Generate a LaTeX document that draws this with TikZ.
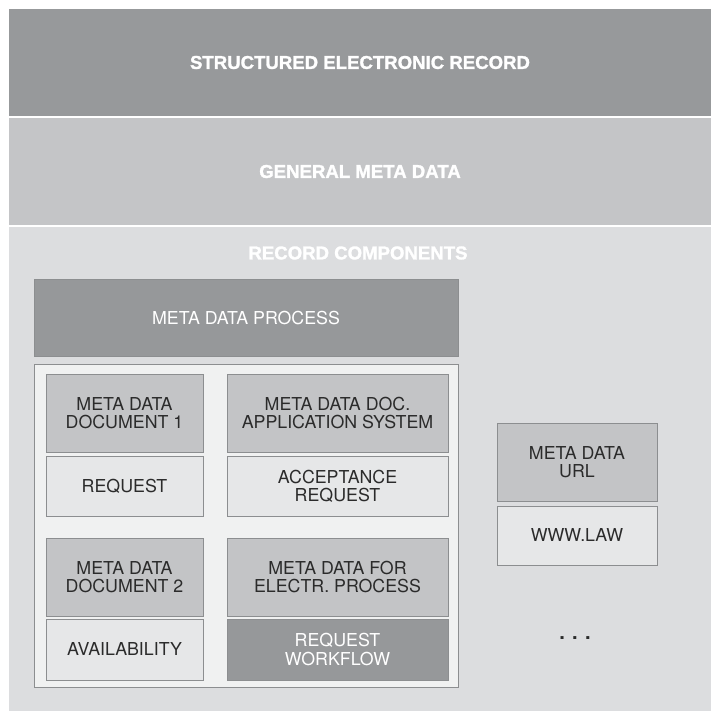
\documentclass[tikz,border=0pt]{standalone}
\usepackage{fontspec}
\setmainfont{TeX Gyre Heros}
\newfontfamily\hdrfont{Liberation Sans}[FakeBold=1.5]

\definecolor{bandA}{HTML}{97999B}
\definecolor{bandB}{HTML}{C4C5C7}
\definecolor{bandC}{HTML}{DCDDDF}
\definecolor{framefill}{HTML}{F0F1F1}
\definecolor{cellline}{HTML}{8C8E90}
\definecolor{celltext}{HTML}{2B2B2B}
\definecolor{midfill}{HTML}{C3C4C6}
\definecolor{lightfill}{HTML}{E6E7E8}
\definecolor{darkfill}{HTML}{96989A}

\tikzset{
    band/.style={fill=#1, inner sep=0pt, outer sep=0pt, anchor=north west},
    hdr/.style={font=\hdrfont\bfseries\fontsize{18.6}{20}\selectfont, text=white},
    cell/.style={draw=cellline, line width=1pt, inner sep=0pt, outer sep=0pt,
        anchor=north west, align=center, text=celltext,
        font=\fontsize{17.8}{18.2}\selectfont},
    midcell/.style={cell, fill=midfill},
    lightcell/.style={cell, fill=lightfill},
    darkcell/.style={cell, fill=darkfill, text=white},
}

\begin{document}
\begin{tikzpicture}[x=1pt,y=-1pt]
    \useasboundingbox (0,0) rectangle (715,711);

    % the three layers of the record
    \node[band=bandA, hdr, minimum width=702pt, minimum height=107pt] (record) at (9,9) {STRUCTURED ELECTRONIC RECORD};
    \node[band=bandB, hdr, minimum width=702pt, minimum height=107pt] (general) at (9,118) {GENERAL META DATA};
    \node[band=bandC, minimum width=702pt, minimum height=484pt] (components) at (9,227) {};
    \node[hdr] (comptitle) at (358,253) {RECORD COMPONENTS};

    % process part
    \node[darkcell, minimum width=424pt, minimum height=77pt] (process) at (34,280) {META DATA PROCESS};
    \node[cell, fill=framefill, minimum width=424pt, minimum height=323pt] (frame) at (34,364) {};

    \node[midcell, minimum width=157pt, minimum height=78pt] (doc1) at (46,374) {META DATA\\DOCUMENT 1};
    \node[lightcell, minimum width=157pt, minimum height=60pt] (request) at (46,456) {REQUEST};
    \node[midcell, minimum width=221pt, minimum height=78pt] (appsys) at (227,374) {META DATA DOC.\\APPLICATION SYSTEM};
    \node[lightcell, minimum width=221pt, minimum height=60pt] (accept) at (227,456) {ACCEPTANCE\\REQUEST};

    \node[midcell, minimum width=157pt, minimum height=78pt] (doc2) at (46,538) {META DATA\\DOCUMENT 2};
    \node[lightcell, minimum width=157pt, minimum height=61pt] (avail) at (46,619) {AVAILABILITY};
    \node[midcell, minimum width=221pt, minimum height=78pt] (electr) at (227,538) {META DATA FOR\\ELECTR. PROCESS};
    \node[darkcell, minimum width=221pt, minimum height=61pt] (workflow) at (227,619) {REQUEST\\WORKFLOW};

    % url part
    \node[midcell, minimum width=160pt, minimum height=78pt] (url) at (497,423) {META DATA\\URL};
    \node[lightcell, minimum width=160pt, minimum height=59pt] (law) at (497,506) {WWW.LAW};

    \node[font=\bfseries\fontsize{20}{20}\selectfont, text=celltext] (more) at (575,638) {. . .};
\end{tikzpicture}
\end{document}
